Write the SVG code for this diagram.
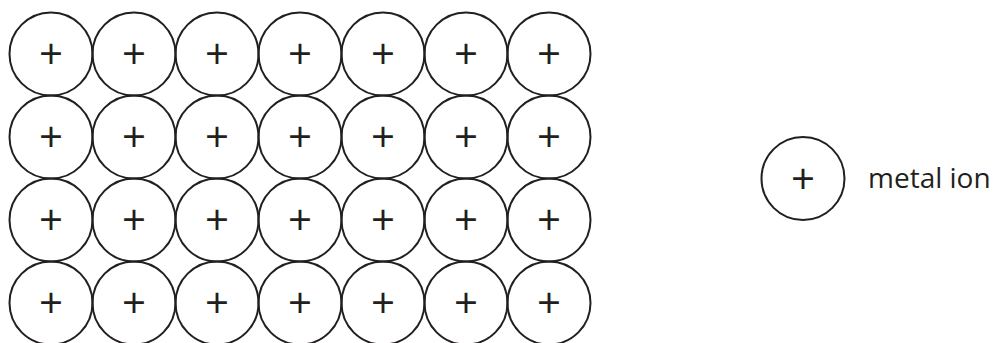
<svg xmlns="http://www.w3.org/2000/svg" width="996" height="343" viewBox="0 0 996 343">
<style>
.ring{fill:none;stroke:#231f20;stroke-width:2}
.plus{font-family:"Open Sans","Liberation Sans",sans-serif;font-size:42px;fill:#231f20;text-anchor:middle}
.lbl{font-family:"Open Sans","Liberation Sans",sans-serif;font-size:28px;fill:#231f20}
</style>
<defs>
<g id="ionShape"><circle class="ring" cx="0" cy="0" r="41.5"/><text class="plus" x="0" y="15">+</text></g>
</defs>
<g id="lattice">
<g id="r1">
<use href="#ionShape" x="51" y="54"/><use href="#ionShape" x="134" y="54"/><use href="#ionShape" x="217" y="54"/><use href="#ionShape" x="300" y="54"/><use href="#ionShape" x="383" y="54"/><use href="#ionShape" x="466" y="54"/><use href="#ionShape" x="549" y="54"/>
</g>
<g id="r2">
<use href="#ionShape" x="51" y="137"/><use href="#ionShape" x="134" y="137"/><use href="#ionShape" x="217" y="137"/><use href="#ionShape" x="300" y="137"/><use href="#ionShape" x="383" y="137"/><use href="#ionShape" x="466" y="137"/><use href="#ionShape" x="549" y="137"/>
</g>
<g id="r3">
<use href="#ionShape" x="51" y="220"/><use href="#ionShape" x="134" y="220"/><use href="#ionShape" x="217" y="220"/><use href="#ionShape" x="300" y="220"/><use href="#ionShape" x="383" y="220"/><use href="#ionShape" x="466" y="220"/><use href="#ionShape" x="549" y="220"/>
</g>
<g id="r4">
<use href="#ionShape" x="51" y="303"/><use href="#ionShape" x="134" y="303"/><use href="#ionShape" x="217" y="303"/><use href="#ionShape" x="300" y="303"/><use href="#ionShape" x="383" y="303"/><use href="#ionShape" x="466" y="303"/><use href="#ionShape" x="549" y="303"/>
</g>
</g>
<g id="legend">
<g id="legend-ion"><use href="#ionShape" x="803" y="178.5"/></g>
<text id="legend-label" class="lbl" x="868" y="188">metal ion</text>
</g>
<g id="connectors"/>
</svg>
